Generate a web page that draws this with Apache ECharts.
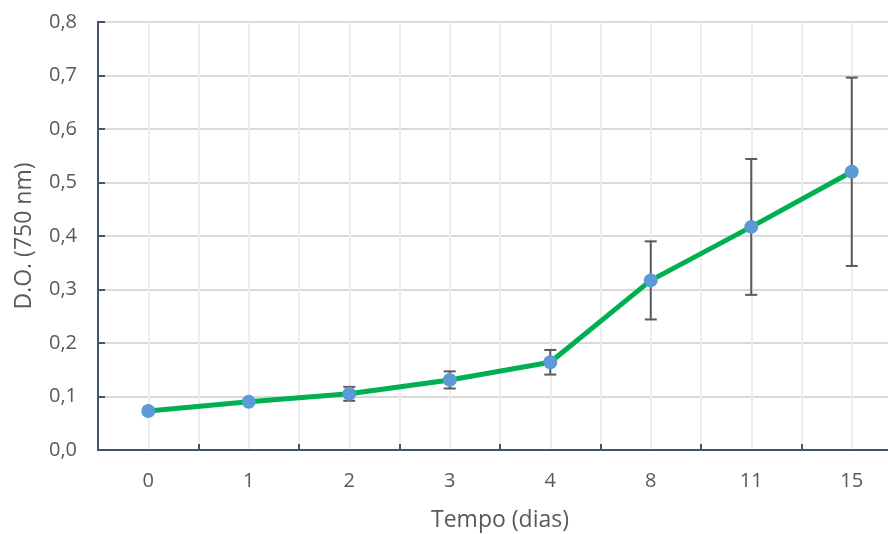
<!DOCTYPE html>
<html><head><meta charset="utf-8">
<script src="https://cdn.jsdelivr.net/npm/echarts@6/dist/echarts.min.js"></script>
<style>html,body{margin:0;padding:0;background:#fff}#c{width:888px;height:534px}</style>
</head><body><div id="c"></div>
<script>
const categories = ['0','1','2','3','4','8','11','15'];
const meanOD = [0.073, 0.090, 0.105, 0.131, 0.164, 0.317, 0.417, 0.520];
const errOD = [0.004, 0.004, 0.013, 0.016, 0.023, 0.073, 0.127, 0.176];
const yTicks = ['0,0','0,1','0,2','0,3','0,4','0,5','0,6','0,7','0,8'];

const FONT = '"Open Sans", "Liberation Sans", sans-serif';
const chart = echarts.init(document.getElementById('c'), null, {renderer:'canvas'});
const errData = categories.map((c,i)=>[i, meanOD[i]-errOD[i], meanOD[i]+errOD[i]]);
chart.setOption({
  animation:false,
  backgroundColor:'#fff',
  grid:{left:98, top:22, bottom:84, right:-14, outerBoundsMode:'none', containLabel:false,
    show:true, borderColor:'#44546A', borderWidth:2, backgroundColor:'transparent'},
  xAxis:[{
    type:'category', data:categories, boundaryGap:true,
    name:'Tempo (dias)', nameLocation:'middle', nameGap:59,
    nameTextStyle:{color:'#595959', fontSize:23, fontFamily:FONT},
    axisLine:{lineStyle:{color:'#44546A', width:2}},
    axisTick:{show:true, inside:true, length:6, lineStyle:{color:'#44546A', width:2}},
    axisLabel:{color:'#595959', fontSize:20, fontFamily:FONT, margin:21},
    splitLine:{show:false}
  },{
    type:'value', min:0, max:8, interval:0.5, position:'bottom',
    axisLine:{show:false}, axisTick:{show:false}, axisLabel:{show:false},
    splitLine:{show:true, lineStyle:{color:'#EDEDED', width:2}}
  }],
  yAxis:{
    type:'value', min:0, max:0.8, interval:0.1,
    name:'D.O. (750 nm)', nameLocation:'middle', nameGap:62, nameRotate:90,
    nameTextStyle:{color:'#595959', fontSize:23, fontFamily:FONT},
    axisLine:{show:true, lineStyle:{color:'#44546A', width:2}},
    axisTick:{show:true, inside:true, length:7, lineStyle:{color:'#44546A', width:2}},
    axisLabel:{color:'#595959', fontSize:20, fontFamily:FONT, margin:21,
      formatter:(v)=>yTicks[Math.round(v*10)]},
    splitLine:{show:true, lineStyle:{color:'#D9D9D9', width:2}}
  },
  series:[{
    type:'custom', xAxisIndex:0, z:3,
    data:errData,
    renderItem:(params, api)=>{
      const x = api.value(0);
      const lo = api.coord([x, api.value(1)]);
      const hi = api.coord([x, api.value(2)]);
      const w = 6;
      const st = {stroke:'#595959', lineWidth:2};
      return {type:'group', children:[
        {type:'line', shape:{x1:lo[0], y1:lo[1], x2:hi[0], y2:hi[1]}, style:st},
        {type:'line', shape:{x1:lo[0]-w, y1:lo[1], x2:lo[0]+w, y2:lo[1]}, style:st},
        {type:'line', shape:{x1:hi[0]-w, y1:hi[1], x2:hi[0]+w, y2:hi[1]}, style:st}
      ]};
    }
  },{
    type:'line', xAxisIndex:0, z:4, data:meanOD,
    lineStyle:{color:'#00B050', width:5},
    symbol:'circle', symbolSize:14,
    itemStyle:{color:'#5B9BD5', borderWidth:0},
    showSymbol:true
  }]
});
</script></body></html>
